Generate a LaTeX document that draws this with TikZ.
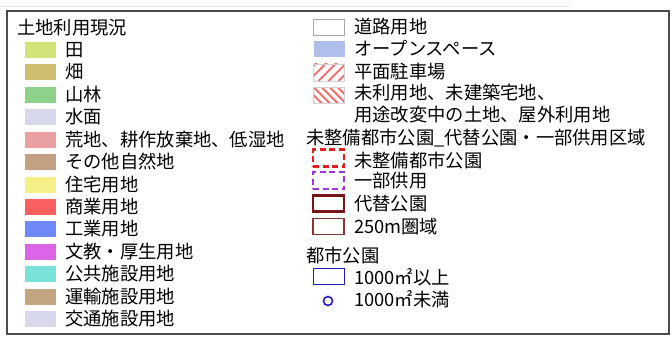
\documentclass[tikz,border=0pt]{standalone}
\usepackage{fontspec}
\setmainfont{Noto Sans CJK JP}
\definecolor{cTa}{RGB}{212,226,122}
\definecolor{cHata}{RGB}{207,190,112}
\definecolor{cSan}{RGB}{143,209,138}
\definecolor{cSui}{RGB}{216,216,236}
\definecolor{cKo}{RGB}{232,160,162}
\definecolor{cSono}{RGB}{196,160,130}
\definecolor{cJu}{RGB}{245,240,138}
\definecolor{cSho}{RGB}{250,95,95}
\definecolor{cKou}{RGB}{110,136,245}
\definecolor{cBun}{RGB}{220,100,230}
\definecolor{cKyo}{RGB}{122,226,216}
\definecolor{cUn}{RGB}{195,165,130}
\definecolor{cKt}{RGB}{216,216,236}
\definecolor{cOpen}{RGB}{175,190,235}
\definecolor{cHatch}{RGB}{236,110,110}
\definecolor{cRedD}{RGB}{225,30,30}
\definecolor{cPurD}{RGB}{160,50,230}
\definecolor{cDkRed}{RGB}{120,20,20}
\definecolor{cThRed}{RGB}{140,50,50}
\definecolor{cBlue}{RGB}{30,30,190}
\definecolor{cFrame}{RGB}{75,75,75}
\begin{document}
\begin{tikzpicture}[x=1pt,y=-1pt,
  lbl/.style={anchor=west, inner sep=0pt, font=\fontsize{18.3}{20}\selectfont, text height=15.5pt, text depth=2.5pt},
  swl/.style={minimum width=31pt, minimum height=16pt, inner sep=0pt, draw=none},
  swr/.style={minimum width=31pt, minimum height=16pt, inner sep=0pt},
  hatchA/.style={swr, draw=gray!35, line width=0.6pt, path picture={
      \foreach \i in {-25,-15,...,35}
        \draw[cHatch, line width=1.8pt] ([xshift=\i pt]path picture bounding box.south west) -- ++(22,-22);}},
  hatchB/.style={swr, draw=gray!35, line width=0.6pt, path picture={
      \foreach \i in {-24,-16,...,36}
        \draw[cHatch, line width=1.8pt] ([xshift=\i pt]path picture bounding box.north west) -- ++(22,22);}},
 ]
\fill[white] (0,0) rectangle (672,337);
\useasboundingbox (0,0) rectangle (672,337);
\draw[gray!18] (0,6) -- (570,6);
\draw[cFrame, line width=1.5pt] (7,11) rectangle (669,334);

% left column
\node[lbl] (h1) at (17,28) {土地利用現況};
\foreach \c/\t [count=\k from 0] in {cTa/田, cHata/畑, cSan/山林, cSui/水面, cKo/荒地、耕作放棄地、低湿地, cSono/その他自然地, cJu/住宅用地, cSho/商業用地, cKou/工業用地, cBun/文教・厚生用地, cKyo/公共施設用地, cUn/運輸施設用地, cKt/交通施設用地}{
  \node[swl, fill=\c] (sl\k) at (40.5,{50+22.42*\k}) {};
  \node[lbl] (tl\k) at (65,{50+22.42*\k}) {\t};
}

% right column
\node[swr, draw=gray!70, line width=0.7pt, fill=white] (r1) at (329,27) {};
\node[lbl] (tr1) at (354,27) {道路用地};
\node[swr, fill=cOpen] (r2) at (329,49.5) {};
\node[lbl] (tr2) at (354,49) {オープンスペース};
\node[hatchA, minimum height=17pt] (r3) at (329,72.5) {};
\node[lbl] (tr3) at (354,72) {平面駐車場};
\node[hatchB] (r4) at (329,95) {};
\node[lbl] (tr4) at (354,93) {未利用地、未建築宅地、};
\node[lbl] (tr4b) at (354,115) {用途改変中の土地、屋外利用地};

\node[lbl] (h2) at (306,138) {未整備都市公園\_代替公園・一部供用区域};
\node[swr, minimum height=17pt, draw=cRedD, line width=2.6pt, dash pattern=on 6pt off 3.5pt] (r5) at (328.5,158) {};
\node[lbl] (tr5) at (354,161) {未整備都市公園};
\node[swr, minimum height=17pt, draw=cPurD, line width=2.6pt, dash pattern=on 6pt off 3.5pt] (r6) at (328.5,180.5) {};
\node[lbl] (tr6) at (354,181) {一部供用};
\node[swr, minimum height=16pt, draw=cDkRed, line width=2.4pt] (r7) at (328.5,203.5) {};
\node[lbl] (tr7) at (354,204) {代替公園};
\node[swr, minimum height=16pt, draw=cThRed, line width=1.3pt] (r8) at (328.5,226.5) {};
\node[lbl] (tr8) at (354,227) {250m圏域};

\node[lbl] (h3) at (306,256) {都市公園};
\node[swr, minimum height=16pt, draw=cBlue, line width=1.5pt] (r9) at (329,276.5) {};
\node[lbl] (tr9) at (354,278) {1000㎡以上};
\node[circle, draw=cBlue, line width=1.6pt, minimum size=9pt, inner sep=0pt] (r10) at (328,301) {};
\node[lbl] (tr10) at (354,300) {1000㎡未満};
\end{tikzpicture}
\end{document}
